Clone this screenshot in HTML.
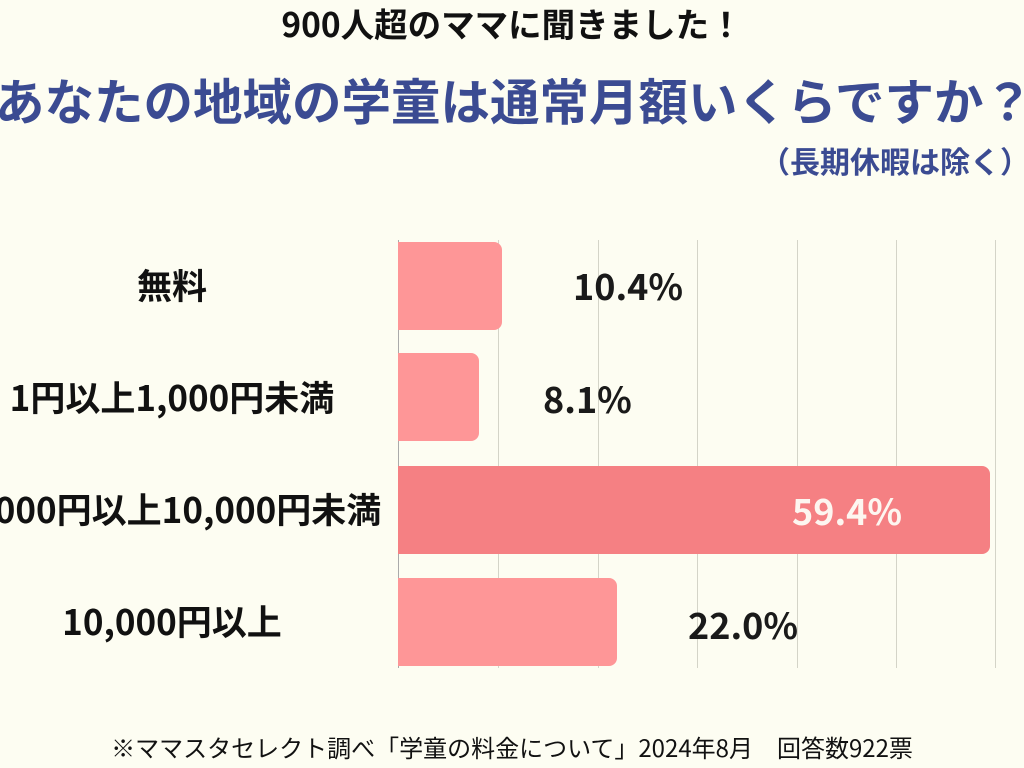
<!DOCTYPE html>
<html><head><meta charset="utf-8"><style>
body{margin:0;width:1024px;height:768px;background:#fdfdf2;overflow:hidden;position:relative;font-family:"Noto Sans CJK JP","Liberation Sans",sans-serif;font-weight:bold}
div{position:absolute;white-space:nowrap}
.t{color:#3b4b92}
.lab{width:600px;left:-128px;text-align:center;font-size:35px;color:#111;line-height:50px}
.bar{left:398px;background:#fe9697;border-radius:0 8px 8px 0;height:88px}
.g{top:240px;height:428px;width:1px;background:#d4d4c8}
.v{font-size:36px;color:#1a1a1a;line-height:50px}
</style></head><body>
<div style="left:0;width:1024px;text-align:center;top:-2px;font-size:33.5px;line-height:50px;color:#111">900人超のママに聞きました！</div>
<div class="t" style="left:-5px;top:67px;width:1200px;font-size:49.5px;line-height:66px">あなたの地域の学童は通常月額いくらですか？</div>
<div class="t" style="right:-6px;top:136px;font-size:30px;line-height:48px">（長期休暇は除く）</div>
<div class="g" style="left:398px;background:#aaa"></div>
<div class="g" style="left:498px"></div><div class="g" style="left:598px"></div><div class="g" style="left:697px"></div><div class="g" style="left:797px"></div><div class="g" style="left:896px"></div><div class="g" style="left:995px"></div>
<div class="bar" style="top:242px;width:104px"></div>
<div class="bar" style="top:353px;width:81px"></div>
<div class="bar" style="top:466px;width:592px;background:#f58083"></div>
<div class="bar" style="top:578px;width:219px"></div>
<div class="lab" style="top:260px">無料</div>
<div class="lab" style="top:372px">1円以上1,000円未満</div>
<div class="lab" style="top:484px">1,000円以上10,000円未満</div>
<div class="lab" style="top:596px">10,000円以上</div>
<div class="v" style="left:573px;top:260px">10.4%</div>
<div class="v" style="left:543px;top:373px">8.1%</div>
<div class="v" style="left:792px;top:485px;color:#fdf6f0">59.4%</div>
<div class="v" style="left:688px;top:599px">22.0%</div>
<div style="left:0;width:1024px;text-align:center;top:729px;font-size:24px;line-height:36px;color:#111;font-weight:normal">※ママスタセレクト調べ「学童の料金について」2024年8月　回答数922票</div>
</body></html>
